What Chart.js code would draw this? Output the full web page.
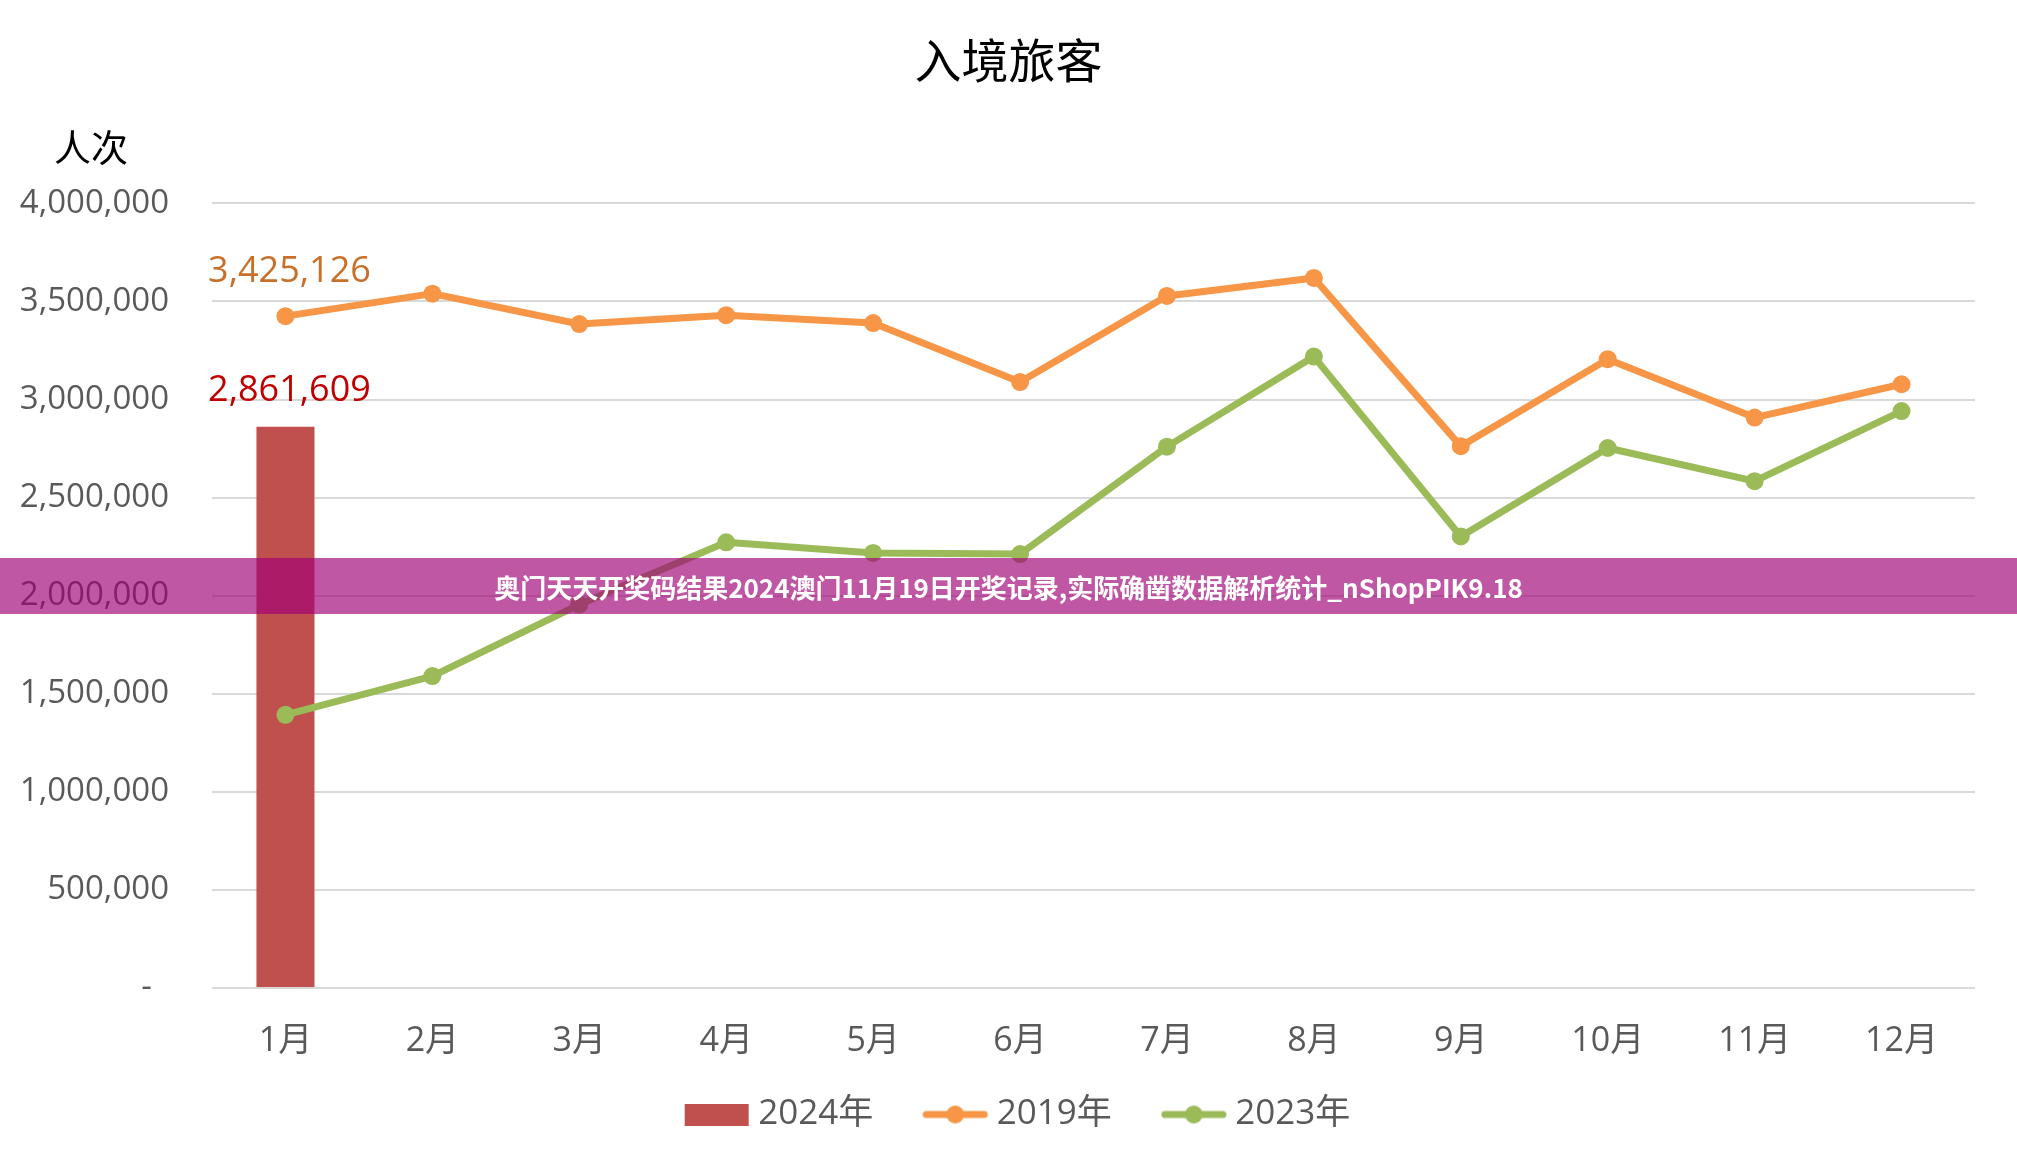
<!DOCTYPE html>
<html>
<head>
<meta charset="utf-8">
<script src="https://cdn.jsdelivr.net/npm/chart.js@4/dist/chart.umd.min.js"></script>
<style>
  html, body { margin: 0; padding: 0; background: #fff; }
  #wrap { position: relative; width: 2017px; height: 1173px; }
  #c { position: absolute; left: 0; top: 0; }
  #banner {
    position: absolute; left: 0; top: 558px; width: 2017px; height: 56px;
    background: rgba(160, 0, 119, 0.66);
    display: flex; align-items: center; justify-content: center;
    color: #fff; font-family: "Noto Sans CJK SC", sans-serif; font-weight: bold; font-size: 26px;
  }
</style>
</head>
<body>
<div id="wrap">
  <canvas id="c" width="2017" height="1173"></canvas>
  <div id="banner">奥门天天开奖码结果2024澳门11月19日开奖记录,实际确凿数据解析统计_nShopPIK9.18</div>
</div>
<script>
// ---- data ----
const categories = ['1月','2月','3月','4月','5月','6月','7月','8月','9月','10月','11月','12月'];
const seriesNames = ['2024年', '2019年', '2023年'];
const values2024 = [2861609, null, null, null, null, null, null, null, null, null, null, null];
const values2019 = [3425126, 3540000, 3385000, 3430000, 3390000, 3089000, 3528000, 3620000, 2762000, 3206000, 2908000, 3078000];
const values2023 = [1393000, 1590000, 1955000, 2272000, 2218000, 2212000, 2760000, 3219000, 2302000, 2753000, 2584000, 2941000];
const yTicks = [0, 500000, 1000000, 1500000, 2000000, 2500000, 3000000, 3500000, 4000000];
const chartTitle = '入境旅客';
const yUnit = '人次';

// ---- styles ----
const RED = '#C0504D', ORANGE = '#F79646', GREEN = '#9BBB59';
const GRID = '#D9D9D9', TICK = '#595959';
const LATIN = '"Open Sans", "Noto Sans CJK SC", sans-serif';
const CJK = '"Noto Sans CJK SC", sans-serif';

Chart.defaults.font.family = LATIN;

function fmt(v) { return v.toLocaleString('en-US'); }

function makeIcon(kind, color) {
  const c = document.createElement('canvas');
  c.width = 66; c.height = 22;
  const g = c.getContext('2d');
  g.fillStyle = color; g.strokeStyle = color;
  if (kind === 'bar') {
    g.fillRect(1, 0, 64, 22);
  } else {
    g.lineWidth = 7; g.lineCap = 'round';
    g.beginPath(); g.moveTo(4, 11); g.lineTo(62, 11); g.stroke();
    g.beginPath(); g.arc(33, 11, 9, 0, Math.PI * 2); g.fill();
  }
  return c;
}
const icons = [makeIcon('bar', RED), makeIcon('line', ORANGE), makeIcon('line', GREEN)];

const LEGEND_SHIFT_Y = 23;
const LEGEND_SHIFT_X = 13;

const extras = {
  id: 'extras',
  afterLayout(chart) {
    const lg = chart.legend;
    if (lg) {
      lg.top -= LEGEND_SHIFT_Y; lg.bottom -= LEGEND_SHIFT_Y;
      lg.left += LEGEND_SHIFT_X; lg.right += LEGEND_SHIFT_X;
    }
  },
  afterDatasetsDraw(chart) {
    const ctx = chart.ctx;
    ctx.save();
    ctx.font = '36px ' + LATIN;
    ctx.textAlign = 'center';
    ctx.textBaseline = 'middle';
    const m2019 = chart.getDatasetMeta(1).data[0];
    ctx.fillStyle = '#C8702A';
    ctx.fillText(fmt(values2019[0]), m2019.x + 4, m2019.y - 44);
    const m2024 = chart.getDatasetMeta(0).data[0];
    ctx.fillStyle = '#C00000';
    ctx.fillText(fmt(values2024[0]), m2024.x + 4, m2024.y - 36);
    ctx.restore();
  },
  afterDraw(chart) {
    const ctx = chart.ctx;
    const ys = chart.scales.y;
    ctx.save();
    ctx.font = '37px ' + CJK;
    ctx.fillStyle = '#000';
    ctx.textAlign = 'center';
    ctx.textBaseline = 'middle';
    ctx.fillText(yUnit, ys.left + 91, chart.chartArea.top - 55);
    ctx.restore();
  }
};

new Chart(document.getElementById('c'), {
  data: {
    labels: categories,
    datasets: [
      { type: 'bar', label: seriesNames[0], data: values2024, backgroundColor: RED,
        barPercentage: 0.395, categoryPercentage: 1, order: 2 },
      { type: 'line', label: seriesNames[1], data: values2019, borderColor: ORANGE, backgroundColor: ORANGE,
        borderWidth: 7, pointRadius: 9, pointBorderWidth: 0, pointBackgroundColor: ORANGE, tension: 0,
        borderJoinStyle: 'round', borderCapStyle: 'round', order: 1 },
      { type: 'line', label: seriesNames[2], data: values2023, borderColor: GREEN, backgroundColor: GREEN,
        borderWidth: 7, pointRadius: 9, pointBorderWidth: 0, pointBackgroundColor: GREEN, tension: 0,
        borderJoinStyle: 'round', borderCapStyle: 'round', order: 0 }
    ]
  },
  options: {
    responsive: false,
    animation: false,
    devicePixelRatio: 1,
    layout: { padding: { left: 0, right: 0, top: 0, bottom: 8 } },
    scales: {
      x: {
        grid: { display: false, drawTicks: false },
        border: { display: false },
        ticks: { color: TICK, font: { size: 34 }, padding: 33, maxRotation: 0, autoSkip: false },
        afterFit(s) { s.height = 74; }
      },
      y: {
        position: 'left',
        min: 0, max: 4000000,
        afterBuildTicks(s) { s.ticks = yTicks.map(v => ({ value: v })); },
        grid: { color: GRID, lineWidth: 2, drawTicks: false },
        border: { display: false },
        ticks: { color: TICK, font: { size: 33 }, padding: 43,
          callback: v => v === 0 ? '-  ' : fmt(v) },
        afterFit(s) { s.width = 212; }
      },
      yR: {
        position: 'right', display: true,
        grid: { display: false, drawTicks: false }, border: { display: false },
        ticks: { display: false },
        afterFit(s) { s.width = 42; }
      }
    },
    plugins: {
      title: { display: true, text: chartTitle, color: '#000',
        font: { size: 47, weight: 'normal', family: CJK },
        padding: { top: 32, bottom: 115 } },
      legend: {
        position: 'bottom',
        labels: {
          usePointStyle: true, pointStyleWidth: 48, padding: 58,
          color: TICK, font: { size: 35 },
          sort: (a, b) => a.datasetIndex - b.datasetIndex,
          generateLabels(chart) {
            const items = Chart.defaults.plugins.legend.labels.generateLabels(chart);
            items.forEach(it => { it.pointStyle = icons[it.datasetIndex]; });
            return items;
          }
        }
      },
      tooltip: { enabled: false }
    }
  },
  plugins: [extras]
});
</script>
</body>
</html>
